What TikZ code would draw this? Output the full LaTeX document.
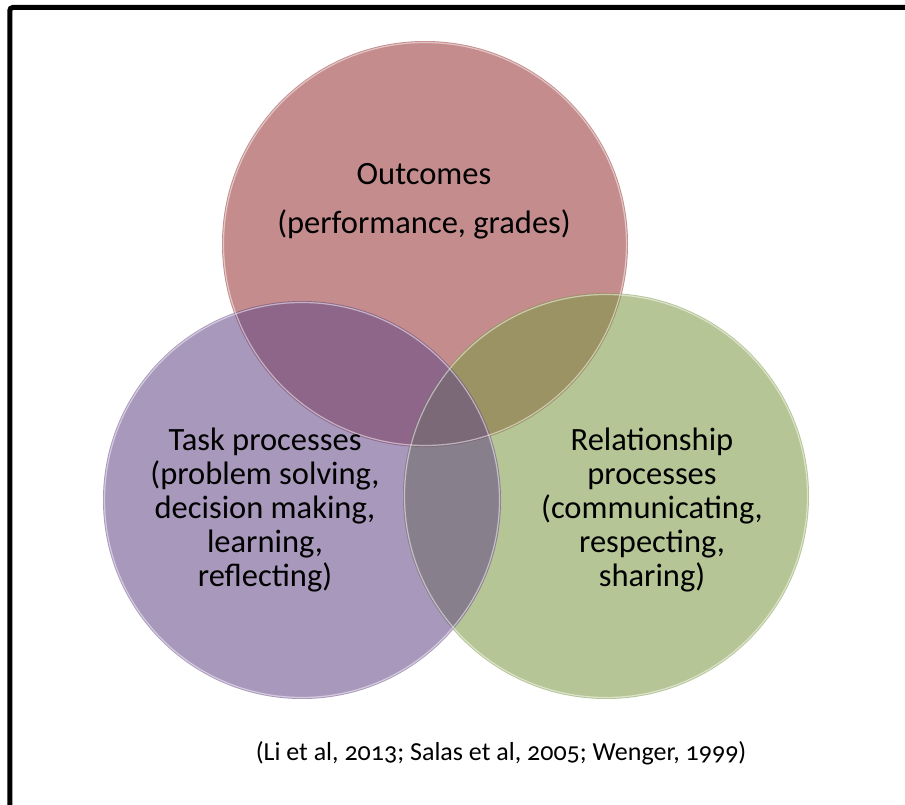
\documentclass[tikz,border=0pt]{standalone}
\usepackage{fontspec}
\setmainfont{Carlito}[Numbers=OldStyle]
\begin{document}
\begin{tikzpicture}[x=1pt,y=-1pt,
  venn/.style={circle,minimum size=#1,inner sep=0pt,fill opacity=0.57,text opacity=1},
  lbl/.style={align=center,font=\fontsize{32.5}{34}\selectfont,text=black},
  rim/.style={draw=white,draw opacity=0.5,line width=1.2pt}]
\useasboundingbox (0,0) rectangle (905,805);
\fill[white] (0,0) rectangle (905,805);
\draw[line width=5pt,rounded corners=3pt] (9.8,806) -- (9.8,7.5) -- (906,7.5);
% circles
\node[venn=406pt,fill={rgb,255:red,152;green,53;blue,53}] (out) at (425,244) {};
\node[venn=406pt,fill={rgb,255:red,125;green,153;blue,69}] (rel) at (606,496) {};
\node[venn=398pt,fill={rgb,255:red,102;green,74;blue,136}] (task) at (302,500) {};
\draw[rim] (425,244) circle (201.5);
\draw[rim] (606,496) circle (201.5);
\draw[rim] (302,500) circle (197.5);
% labels
\node[lbl] (outt) at (424,201) {Outcomes\\[15pt](performance, grades)};
\node[lbl] (taskt) at (265,510) {Task processes\\(problem solving,\\decision making,\\learning,\\reflecting)};
\node[lbl] (relt) at (652,510) {Relationship\\processes\\(communicating,\\respecting,\\sharing)};
\node[font=\fontsize{26}{30}\selectfont] (cite) at (501,753) {(Li et al, 2013; Salas et al, 2005; Wenger, 1999)};
\end{tikzpicture}
\end{document}
